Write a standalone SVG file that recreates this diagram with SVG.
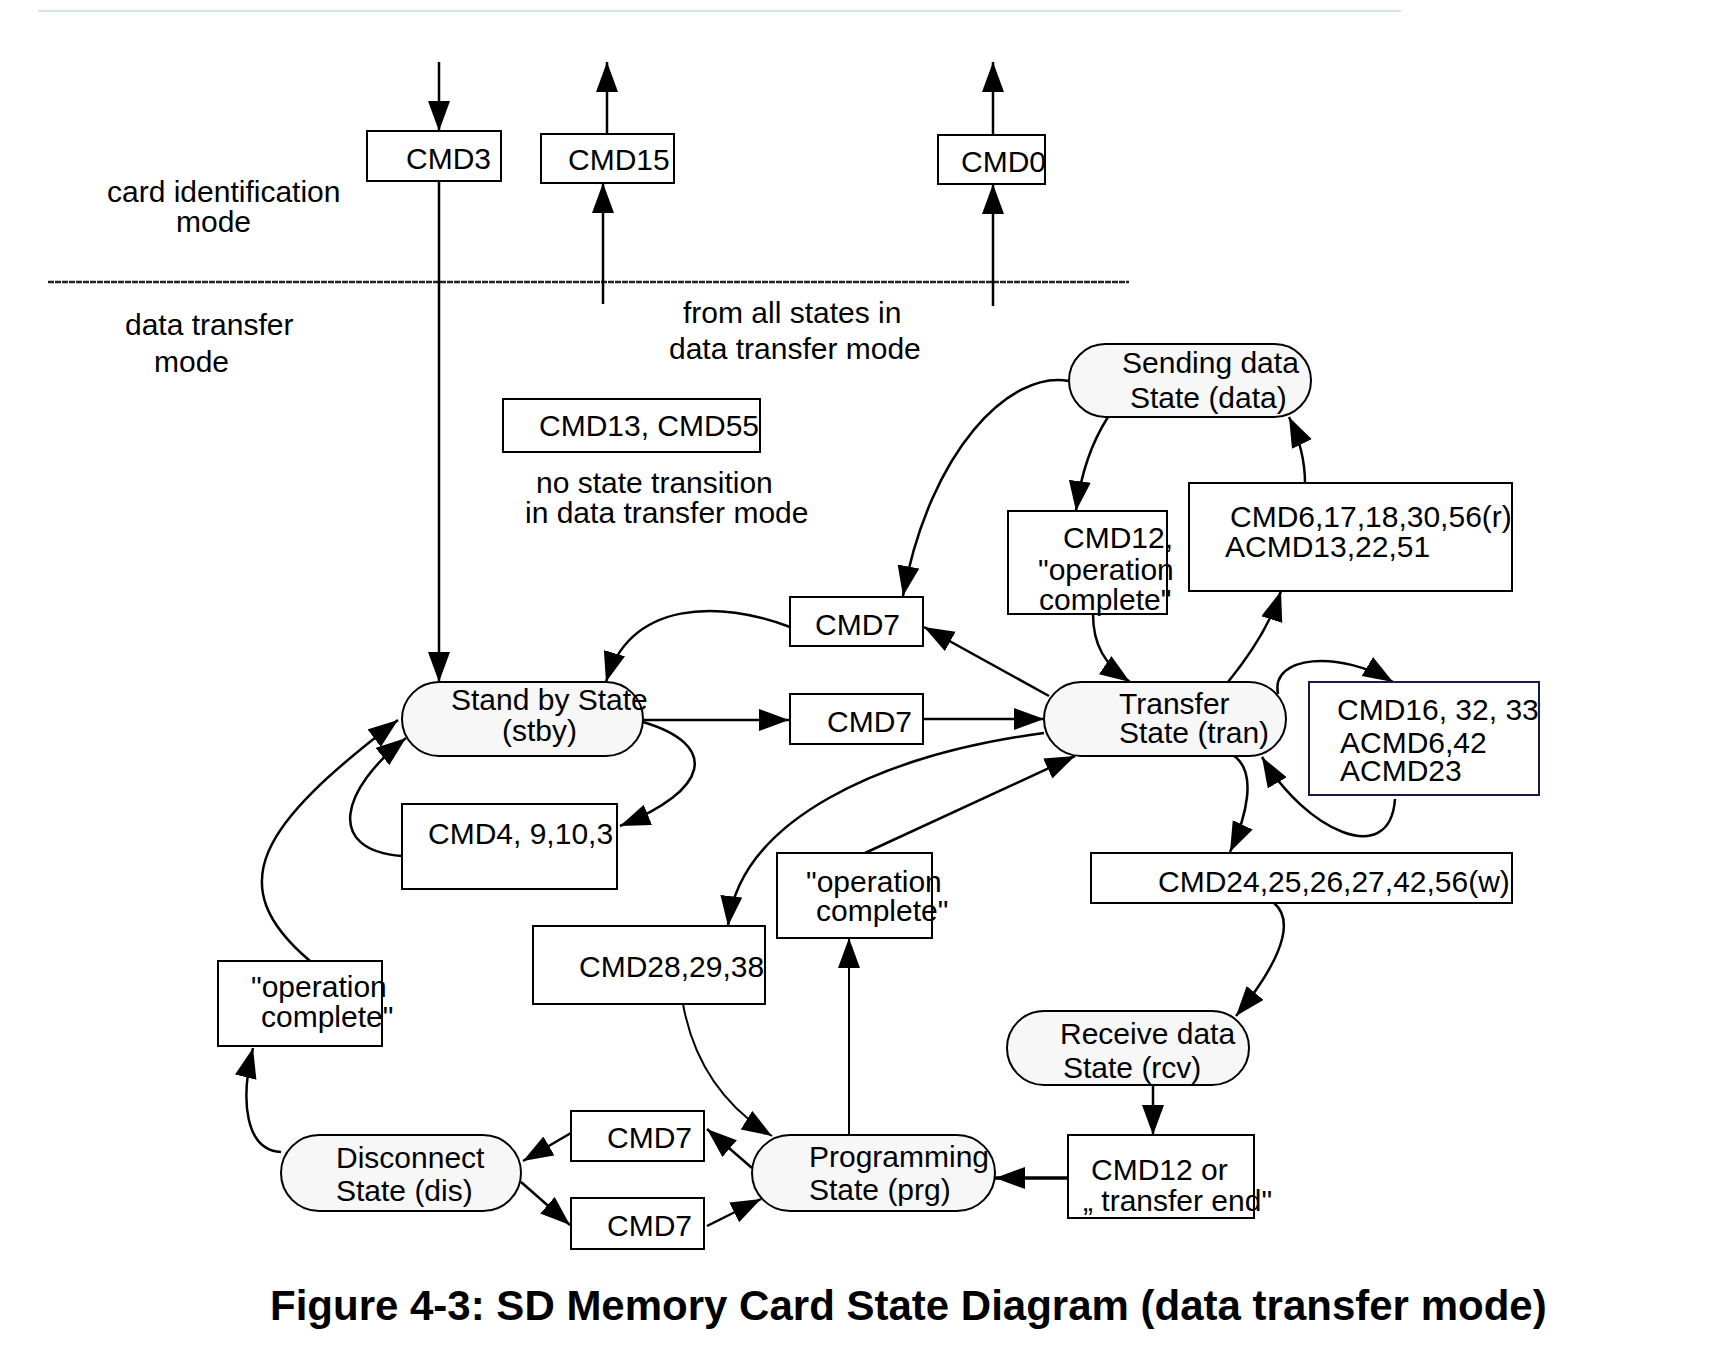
<svg xmlns="http://www.w3.org/2000/svg" width="1710" height="1348" viewBox="0 0 1710 1348">
<style>
.t{font-family:"Liberation Sans",Arial,sans-serif;font-size:30px;fill:#000}
.cap{font-family:"Liberation Sans",Arial,sans-serif;font-size:42px;font-weight:bold;fill:#000}
.box{fill:#fff;stroke:#000;stroke-width:2}
.st{fill:#f7f7f7;stroke:#000;stroke-width:2}
.c{fill:none;stroke:#000;stroke-width:2.5;marker-end:url(#ah)}
</style>
<defs>
<marker id="ah" markerUnits="userSpaceOnUse" viewBox="0 0 32 24" markerWidth="32" markerHeight="24" refX="30" refY="11" orient="auto">
<path d="M0,0 L30,11 L0,22 Z" fill="#000"/>
</marker>
</defs>
<rect width="1710" height="1348" fill="#fff"/>
<line x1="38" y1="11" x2="1401" y2="11" stroke="#c5d9f1" stroke-width="1.5"/>
<line x1="48" y1="282" x2="1129" y2="282" stroke="#222" stroke-width="2.5" stroke-dasharray="6 1"/>

<g id="labels">
<text class="t" x="107" y="202">card identification</text>
<text class="t" x="176" y="232">mode</text>
<text class="t" x="125" y="335">data transfer</text>
<text class="t" x="154" y="372">mode</text>
<text class="t" x="683" y="323">from all states in</text>
<text class="t" x="669" y="359">data transfer mode</text>
<text class="t" x="536" y="493">no state transition</text>
<text class="t" x="525" y="523">in data transfer mode</text>
</g>

<g id="connectors">
<path class="c" d="M439,62 L439,131"/>
<path class="c" d="M439,181 L439,682"/>
<path class="c" d="M607,134 L607,62"/>
<path class="c" d="M603,304 L603,183"/>
<path class="c" d="M993,135 L993,62"/>
<path class="c" d="M993,306 L993,184"/>
<path class="c" d="M1069,381 C1010,370 930,450 903,596"/>
<path class="c" d="M1049,696 L924,627"/>
<path class="c" d="M790,627 C720,600 630,600 606,682"/>
<path class="c" d="M643,720 L789,720"/>
<path class="c" d="M923,719 L1044,719"/>
<path class="c" d="M643,722 C720,745 710,790 620,826"/>
<path class="c" d="M402,856 C325,850 340,790 406,738"/>
<path class="c" d="M310,961 C220,885 260,825 398,720"/>
<path class="c" d="M281,1152 C245,1150 240,1100 253,1048"/>
<path class="c" d="M1108,417 C1090,445 1080,480 1076,511"/>
<path class="c" d="M1305,483 C1305,460 1300,440 1289,417"/>
<path class="c" d="M1093,614 C1093,645 1105,665 1130,682"/>
<path class="c" d="M1228,682 C1250,655 1270,625 1281,591"/>
<path class="c" d="M1278,694 C1270,655 1340,650 1393,682"/>
<path class="c" d="M1395,799 C1390,870 1305,830 1262,757"/>
<path class="c" d="M1231,754 C1260,770 1245,820 1230,852"/>
<path class="c" d="M1044,733 C880,755 740,820 728,926"/>
<path class="c" d="M865,853 L1075,756"/>
<path class="c" style="stroke-width:2" d="M849,1135 L849,938"/>
<path class="c" style="stroke-width:2" d="M683,1004 C695,1070 730,1110 772,1136"/>
<path class="c" d="M1274,903 C1300,925 1270,975 1236,1016"/>
<path class="c" d="M1153,1085 L1153,1135"/>
<path class="c" style="stroke-width:3.5" d="M1068,1178 L995,1178"/>
<path class="c" d="M752,1168 L707,1129"/>
<path class="c" d="M571,1133 L523,1161"/>
<path class="c" d="M521,1182 L570,1225"/>
<path class="c" d="M707,1226 L761,1199"/>
</g>

<g id="cmd3"><rect class="box" x="367" y="131" width="134" height="50"/><text class="t" x="406" y="169">CMD3</text></g>
<g id="cmd15"><rect class="box" x="541" y="134" width="133" height="49"/><text class="t" x="568" y="170">CMD15</text></g>
<g id="cmd0"><rect class="box" x="938" y="135" width="107" height="49"/><text class="t" x="961" y="172">CMD0</text></g>
<g id="cmd13"><rect class="box" x="503" y="399" width="257" height="53"/><text class="t" x="539" y="436">CMD13, CMD55</text></g>

<g id="sending"><rect class="st" x="1069" y="344" width="242" height="73" rx="36.5"/><text class="t" x="1122" y="373">Sending data</text><text class="t" x="1130" y="408">State (data)</text></g>

<g id="cmd12op"><rect class="box" x="1008" y="511" width="159" height="103"/><text class="t" x="1063" y="548">CMD12,</text><text class="t" x="1038" y="580">"operation</text><text class="t" x="1039" y="610">complete"</text></g>

<g id="cmd6"><rect class="box" x="1189" y="483" width="323" height="108"/><text class="t" x="1230" y="527">CMD6,17,18,30,56(r)</text><text class="t" x="1225" y="557">ACMD13,22,51</text></g>

<g id="cmd7a"><rect class="box" x="790" y="597" width="133" height="49"/><text class="t" x="815" y="635">CMD7</text></g>
<g id="cmd7b"><rect class="box" x="790" y="694" width="133" height="50"/><text class="t" x="827" y="732">CMD7</text></g>

<g id="standby"><rect class="st" x="402" y="682" width="241" height="74" rx="37"/><text class="t" x="451" y="710">Stand by State</text><text class="t" x="502" y="741">(stby)</text></g>

<g id="transfer"><rect class="st" x="1044" y="682" width="242" height="74" rx="37"/><text class="t" x="1119" y="714">Transfer</text><text class="t" x="1119" y="743">State (tran)</text></g>

<g id="cmd16"><rect class="box" style="stroke:#1a1a4a" x="1309" y="682" width="230" height="113"/><text class="t" x="1337" y="720">CMD16, 32, 33</text><text class="t" x="1340" y="753">ACMD6,42</text><text class="t" x="1340" y="781">ACMD23</text></g>

<g id="cmd4"><rect class="box" x="402" y="804" width="215" height="85"/><text class="t" x="428" y="844">CMD4, 9,10,3</text></g>

<g id="cmd24"><rect class="box" x="1091" y="853" width="421" height="50"/><text class="t" x="1158" y="892">CMD24,25,26,27,42,56(w)</text></g>

<g id="opmid"><rect class="box" x="777" y="853" width="155" height="85"/><text class="t" x="806" y="892">"operation</text><text class="t" x="816" y="921">complete"</text></g>

<g id="cmd28"><rect class="box" x="533" y="926" width="232" height="78"/><text class="t" x="579" y="977">CMD28,29,38</text></g>

<g id="opleft"><rect class="box" x="218" y="961" width="164" height="85"/><text class="t" x="251" y="997">"operation</text><text class="t" x="261" y="1027">complete"</text></g>

<g id="receive"><rect class="st" x="1007" y="1011" width="242" height="74" rx="37"/><text class="t" x="1060" y="1044">Receive data</text><text class="t" x="1063" y="1078">State (rcv)</text></g>

<g id="cmd12or"><rect class="box" x="1068" y="1135" width="186" height="83"/><text class="t" x="1091" y="1180">CMD12 or</text><text class="t" x="1083" y="1211">„ transfer end"</text></g>

<g id="programming"><rect class="st" x="752" y="1135" width="243" height="76" rx="38"/><text class="t" x="809" y="1167">Programming</text><text class="t" x="809" y="1200">State (prg)</text></g>

<g id="disconnect"><rect class="st" x="281" y="1135" width="240" height="76" rx="38"/><text class="t" x="336" y="1168">Disconnect</text><text class="t" x="336" y="1201">State (dis)</text></g>

<g id="cmd7c"><rect class="box" x="571" y="1111" width="133" height="50"/><text class="t" x="607" y="1148">CMD7</text></g>
<g id="cmd7d"><rect class="box" x="571" y="1198" width="133" height="51"/><text class="t" x="607" y="1236">CMD7</text></g>

<text class="cap" x="270" y="1320">Figure 4-3: SD Memory Card State Diagram (data transfer mode)</text>
</svg>
